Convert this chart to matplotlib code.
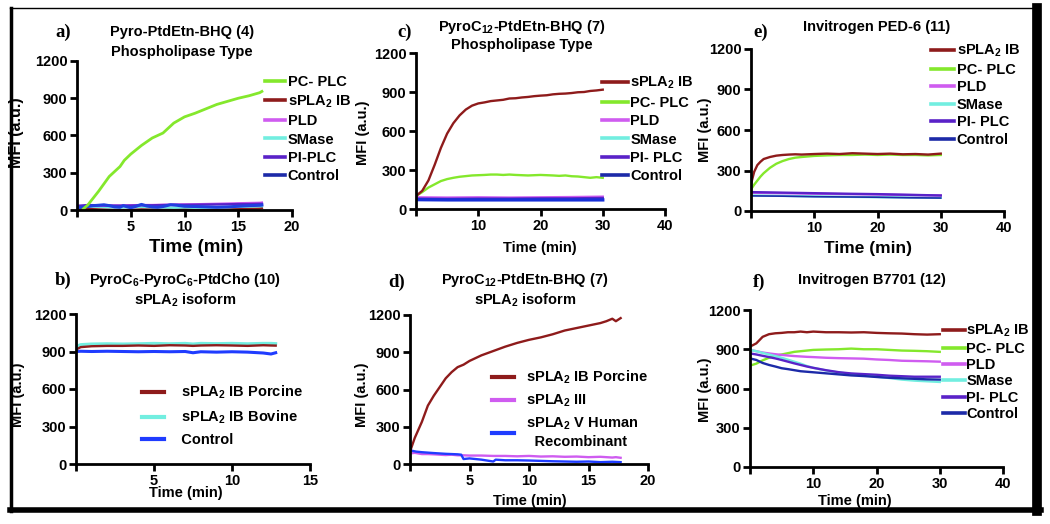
import matplotlib
matplotlib.use("Agg")
import matplotlib.pyplot as plt
from matplotlib.lines import Line2D

plt.rcParams['font.family'] = ['Liberation Sans', 'DejaVu Sans']
plt.rcParams['font.weight'] = 'bold'
plt.rcParams['mathtext.default'] = 'regular'

W, H = 1050, 524

# colours
RED = '#8e1b1b'
GREEN = '#84e82c'
PLD_C = '#cf5cf0'
SMASE_C = '#72eee0'
PIPLC_C = '#5a22c8'
CTRL_C = '#1c2aa8'
BLUE = '#1f3cff'

# ---------- panel a: Pyro-PtdEtn-BHQ (4) ----------
a_t_green = [0.6, 1, 2, 3, 4, 4.4, 5, 6, 7, 8, 8.5, 9, 10, 11, 12, 13, 14, 15, 16, 17, 17.2]
a_pcplc = [10, 40, 150, 270, 350, 400, 450, 520, 580, 620, 660, 700, 750, 780, 815, 850, 875, 900, 920, 945, 955]
a_t = [0.2, 1, 2, 3, 4, 5, 6, 7, 8, 9, 10, 11, 12, 13, 14, 15, 16, 17, 17.2]
a_spla2 = [10, 8, 5, 3, 0, 2, 5, 5, 3, 8, 10, 5, 5, 3, 5, 8, 10, 12, 15]
a_pld = [30, 32, 33, 35, 36, 38, 40, 40, 42, 44, 45, 46, 48, 50, 52, 54, 56, 58, 60]
a_smase = [30, 28, 25, 22, 20, 22, 25, 22, 20, 18, 20, 18, 18, 20, 22, 25, 28, 30, 30]
a_piplc = [35, 40, 38, 36, 35, 36, 38, 38, 40, 42, 42, 43, 44, 45, 46, 48, 48, 50, 50]
a_t_ctrl = [0.2, 0.8, 1.5, 2, 2.5, 3, 3.5, 4, 4.3, 4.7, 5, 5.5, 6, 6.5, 7, 7.5, 8, 8.7, 9.3, 10,
            11, 12, 13, 14, 15, 16, 17, 17.2]
a_ctrl = [20, 25, 35, 38, 42, 35, 25, 22, 35, 25, 18, 30, 45, 32, 25, 22, 28, 42, 38, 30,
          28, 25, 22, 25, 30, 35, 38, 40]

# ---------- panel c: PyroC12-PtdEtn-BHQ (7), phospholipase type ----------
c_t = list(range(0, 31))
c_spla2 = [100, 140, 220, 340, 470, 580, 660, 720, 765, 795, 812, 820, 830, 835, 840, 850, 852, 858,
           862, 868, 872, 875, 882, 886, 888, 892, 898, 900, 908, 912, 918]
c_pcplc = [100, 130, 165, 190, 215, 230, 240, 248, 253, 258, 260, 262, 265, 265, 262, 265, 262, 260,
           258, 260, 262, 260, 258, 255, 258, 252, 250, 245, 240, 245, 240]
c_t_flat = [0, 5, 10, 15, 20, 25, 30]
c_pld = [90, 88, 90, 88, 90, 92, 95]
c_smase = [82, 80, 82, 80, 80, 82, 82]
c_piplc = [80, 78, 80, 80, 82, 82, 85]
c_ctrl = [72, 70, 70, 70, 70, 70, 70]

# ---------- panel e: Invitrogen PED-6 (11) ----------
e_t = [0, 0.5, 1, 1.5, 2, 3, 4, 5, 6, 7, 8, 10, 12, 14, 16, 18, 20, 22, 24, 26, 28, 30]
e_spla2 = [200, 290, 340, 365, 385, 400, 410, 415, 418, 420, 418, 422, 425, 422, 428, 425, 422, 425,
           420, 422, 418, 425]
e_pcplc = [160, 195, 225, 255, 280, 320, 350, 370, 385, 395, 400, 408, 412, 415, 415, 418, 415, 418,
           415, 415, 412, 415]
e_t_flat = [0, 5, 10, 15, 20, 25, 30]
e_pld = [135, 132, 128, 125, 122, 118, 115]
e_smase = [115, 112, 108, 105, 102, 100, 98]
e_piplc = [140, 136, 132, 128, 125, 120, 115]
e_ctrl = [112, 110, 106, 104, 102, 98, 96]

# ---------- panel b: PyroC6-PyroC6-PtdCho (10) ----------
b_t = [0, 0.3, 1, 2, 3, 4, 5, 6, 7, 7.5, 8, 9, 10, 11, 12, 12.5, 12.8]
b_porcine = [915, 935, 942, 945, 945, 948, 945, 950, 948, 945, 948, 950, 948, 945, 950, 948, 947]
b_bovine = [940, 955, 960, 962, 960, 962, 965, 962, 965, 960, 965, 963, 965, 962, 965, 965, 963]
b_ctrl = [900, 902, 900, 902, 900, 898, 900, 898, 900, 890, 898, 895, 898, 895, 888, 880, 890]

# ---------- panel d: PyroC12-PtdEtn-BHQ (7), sPLA2 isoform ----------
d_t = [0, 0.4, 1, 1.5, 2, 2.5, 3, 3.5, 4, 4.5, 5, 6, 7, 8, 9, 10, 11, 12, 13, 14, 15, 16, 16.5,
       17, 17.3, 17.7]
d_porcine = [100, 210, 340, 470, 550, 620, 690, 740, 780, 800, 830, 875, 910, 945, 975, 1000, 1020,
             1045, 1075, 1095, 1115, 1135, 1150, 1170, 1150, 1175]
d_iii = [85, 90, 80, 80, 78, 75, 72, 75, 70, 70, 68, 68, 65, 65, 62, 65, 60, 62, 58, 60, 55, 58, 55,
         52, 55, 50]
d_t_v = [0, 0.5, 1, 2, 3, 4, 4.3, 4.5, 5, 6, 7, 7.2, 8, 9, 10, 11, 12, 13, 14, 15, 16, 17, 17.7]
d_v = [110, 100, 95, 88, 82, 78, 75, 40, 45, 35, 20, 35, 30, 30, 28, 25, 22, 20, 18, 20, 15, 18, 15]

# ---------- panel f: Invitrogen B7701 (12) ----------
f_t = [0, 1, 2, 3, 4, 5, 6, 7, 8, 9, 10, 12, 14, 16, 18, 20, 22, 24, 26, 28, 30]
f_spla2 = [920, 945, 995, 1015, 1022, 1025, 1030, 1030, 1035, 1030, 1035, 1030, 1030, 1028, 1030,
           1025, 1022, 1020, 1015, 1012, 1015]
f_pcplc = [775, 790, 815, 835, 850, 860, 870, 880, 885, 890, 895, 898, 900, 905, 900, 900, 895, 890,
           888, 885, 880]
f_pld = [895, 885, 875, 868, 862, 857, 852, 848, 845, 842, 840, 835, 832, 830, 828, 822, 818, 812,
         810, 808, 805]
f_smase = [895, 885, 872, 860, 848, 835, 820, 805, 790, 772, 758, 738, 722, 712, 702, 690, 680, 668,
           660, 655, 650]
f_piplc = [868, 860, 850, 840, 830, 818, 805, 792, 780, 768, 758, 740, 725, 715, 710, 705, 698, 694,
           690, 690, 690]
f_ctrl = [830, 818, 795, 780, 768, 755, 748, 740, 732, 728, 724, 716, 708, 700, 695, 688, 682, 678,
          674, 670, 668]

yticks = [0, 300, 600, 900, 1200]
SPLA = 'sPLA$_2$ IB'


def fx(x):
    return x / W


def fy(y):
    return 1 - y / H


def make_axes(fig, left, right, top, bottom, xmax, xticks):
    ax = fig.add_axes([fx(left), fy(bottom), fx(right - left), (bottom - top) / H])
    ax.set_xlim(0, xmax)
    ax.set_ylim(0, 1200)
    for s in ['top', 'right']:
        ax.spines[s].set_visible(False)
    for s in ['left', 'bottom']:
        ax.spines[s].set_linewidth(2.0)
    ax.set_yticks(yticks)
    ax.set_xticks([0] + xticks)
    ax.set_xticklabels([''] + [str(v) for v in xticks])
    ax.tick_params(width=2.0, length=5, labelsize=10.5, pad=2)
    for lab in ax.get_xticklabels() + ax.get_yticklabels():
        lab.set_fontweight('bold')
    return ax


def add_texts(fig, letter, lx, ly, title_lines, tx, tys, ylx, yly, xlx, xly,
              ysize=10.5, xsize=10.5):
    fig.text(fx(lx), fy(ly), letter, family='Liberation Serif', weight='bold', fontsize=13.5,
             ha='left', va='center')
    for line, ty in zip(title_lines, tys):
        fig.text(fx(tx), fy(ty), line, weight='bold', fontsize=10.5, ha='center', va='center')
    fig.text(fx(ylx), fy(yly), 'MFI (a.u.)', weight='bold', fontsize=ysize, rotation=90,
             ha='center', va='center')
    fig.text(fx(xlx), fy(xly), 'Time (min)', weight='bold', fontsize=xsize, ha='center',
             va='center')


def add_legend(ax, handles, x, y, spacing, hlen=1.6, pad=0.15):
    leg = ax.legend(handles=handles, loc='upper left', bbox_to_anchor=(fx(x), fy(y)),
                    bbox_transform=ax.figure.transFigure, frameon=False, fontsize=10.5,
                    handlelength=hlen, handletextpad=pad, labelspacing=spacing,
                    borderpad=0, borderaxespad=0)
    for t in leg.get_texts():
        t.set_fontweight('bold')
    return leg


def h(color, label, lw=2.6):
    return Line2D([], [], color=color, lw=lw, label=label)


fig = plt.figure(figsize=(W / 100, H / 100), dpi=100)

LW = 1.7

# panel a
ax = make_axes(fig, 77, 292, 61, 210, 20, [5, 10, 15, 20])
ax.plot(a_t, a_spla2, color=RED, lw=LW)
ax.plot(a_t, a_smase, color=SMASE_C, lw=LW)
ax.plot(a_t, a_pld, color=PLD_C, lw=LW)
ax.plot(a_t, a_piplc, color=PIPLC_C, lw=LW)
ax.plot(a_t_ctrl, a_ctrl, color='#2040e0', lw=2.2)
ax.plot(a_t_green, a_pcplc, color=GREEN, lw=2.0)
add_legend(ax, [h(GREEN, 'PC- PLC'), h(RED, SPLA), h(PLD_C, 'PLD'), h(SMASE_C, 'SMase'),
                h(PIPLC_C, 'PI-PLC'), h(CTRL_C, 'Control')], 265, 75, 0.3, hlen=1.4)
add_texts(fig, 'a)', 55, 32, ['Pyro-PtdEtn-BHQ (4)', 'Phospholipase Type'], 182, [32, 52],
          17, 133, 196, 247, ysize=11.5, xsize=13.5)

# panel c
ax = make_axes(fig, 416, 665, 53, 209, 40, [10, 20, 30, 40])
ax.plot(c_t_flat, c_smase, color=SMASE_C, lw=LW)
ax.plot(c_t_flat, c_pld, color=PLD_C, lw=LW)
ax.plot(c_t_flat, c_piplc, color=PIPLC_C, lw=LW)
ax.plot(c_t_flat, c_ctrl, color='#1830d8', lw=2.4)
ax.plot(c_t, c_pcplc, color=GREEN, lw=LW)
ax.plot(c_t, c_spla2, color=RED, lw=LW)
add_legend(ax, [h(RED, SPLA), h(GREEN, 'PC- PLC'), h(PLD_C, 'PLD'), h(SMASE_C, 'SMase'),
                h(PIPLC_C, 'PI- PLC'), h(CTRL_C, 'Control')], 602, 75, 0.3, hlen=1.8)
add_texts(fig, 'c)', 397, 32, ['PyroC$_{12}$-PtdEtn-BHQ (7)', 'Phospholipase Type'], 522, [27, 45],
          363, 133, 540, 248)

# panel e
ax = make_axes(fig, 751, 1004, 49, 211, 40, [10, 20, 30, 40])
ax.plot(e_t_flat, e_smase, color=SMASE_C, lw=LW)
ax.plot(e_t_flat, e_pld, color=PLD_C, lw=LW)
ax.plot(e_t_flat, e_piplc, color=PIPLC_C, lw=LW)
ax.plot(e_t_flat, e_ctrl, color=CTRL_C, lw=1.2)
ax.plot(e_t, e_pcplc, color=GREEN, lw=LW)
ax.plot(e_t, e_spla2, color=RED, lw=LW)
add_legend(ax, [h(RED, SPLA), h(GREEN, 'PC- PLC'), h(PLD_C, 'PLD'), h(SMASE_C, 'SMase'),
                h(PIPLC_C, 'PI- PLC'), h(CTRL_C, 'Control')], 931, 43, 0.24)
add_texts(fig, 'e)', 753, 32, ['Invitrogen PED-6 (11)'], 877, [27],
          705, 130, 868, 249, xsize=12.5)

# panel b
ax = make_axes(fig, 76, 310, 314, 464, 15, [5, 10, 15])
ax.plot(b_t, b_bovine, color=SMASE_C, lw=2.2)
ax.plot(b_t, b_porcine, color=RED, lw=LW)
ax.plot(b_t, b_ctrl, color=BLUE, lw=2.2)
add_legend(ax, [h(RED, '  ' + SPLA + ' Porcine', 3), h(SMASE_C, '  ' + SPLA + ' Bovine', 3),
                h(BLUE, '  Control', 3)], 142, 384, 0.5, hlen=1.5, pad=0.6)
add_texts(fig, 'b)', 55, 280, ['PyroC$_6$-PyroC$_6$-PtdCho (10)', 'sPLA$_2$ isoform'], 185,
          [280, 300], 18, 395, 186, 493)

# panel d
ax = make_axes(fig, 410, 648, 315, 464, 20, [5, 10, 15, 20])
ax.plot(d_t, d_iii, color=PLD_C, lw=LW)
ax.plot(d_t_v, d_v, color=BLUE, lw=LW)
ax.plot(d_t, d_porcine, color=RED, lw=LW)
add_legend(ax, [h(RED, '  ' + SPLA + ' Porcine', 3), h(PLD_C, '  sPLA$_2$ III', 3),
                h(BLUE, '  sPLA$_2$ V Human\n    Recombinant', 3)], 492, 369, 0.45, hlen=1.5,
           pad=0.3)
add_texts(fig, 'd)', 388, 282, ['PyroC$_{12}$-PtdEtn-BHQ (7)', 'sPLA$_2$ isoform'], 525,
          [280, 300], 362, 395, 530, 501)

# panel f
ax = make_axes(fig, 750, 1003, 310, 467, 40, [10, 20, 30, 40])
ax.plot(f_t, f_pcplc, color=GREEN, lw=LW)
ax.plot(f_t, f_pld, color=PLD_C, lw=LW)
ax.plot(f_t, f_smase, color=SMASE_C, lw=LW)
ax.plot(f_t, f_piplc, color=PIPLC_C, lw=LW)
ax.plot(f_t, f_ctrl, color=CTRL_C, lw=LW)
ax.plot(f_t, f_spla2, color=RED, lw=LW)
add_legend(ax, [h(RED, SPLA), h(GREEN, 'PC- PLC'), h(PLD_C, 'PLD'), h(SMASE_C, 'SMase'),
                h(PIPLC_C, 'PI- PLC'), h(CTRL_C, 'Control')], 943, 323, 0.16, hlen=1.5, pad=0.1)
add_texts(fig, 'f)', 753, 282, ['Invitrogen B7701 (12)'], 872, [280],
          705, 390, 855, 501)

# outer frame
frame = [((10, 8), (1037, 8), 1.0), ((11, 8), (11, 511), 2.5),
         ((1037, 8), (1037, 511), 7.0), ((10, 510), (1041, 510), 4.0)]
for (x0, y0), (x1, y1), lw in frame:
    fig.add_artist(Line2D([fx(x0), fx(x1)], [fy(y0), fy(y1)], color='black', lw=lw,
                          transform=fig.transFigure))

fig.savefig('out.png', dpi=100)
